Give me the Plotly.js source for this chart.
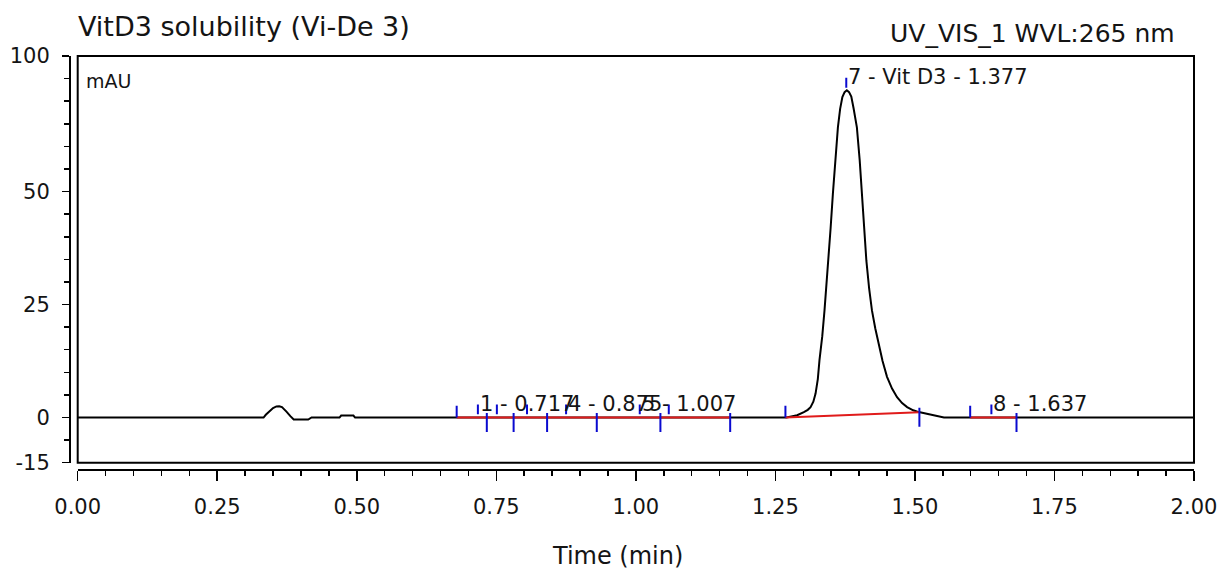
<!DOCTYPE html>
<html>
<head>
<meta charset="utf-8">
<script src="https://cdn.plot.ly/plotly-3.0.1.min.js"></script>
<style>html,body{margin:0;padding:0;background:#fff;}#chart{width:1227px;height:573px;}</style>
</head>
<body>
<div id="chart"></div>
<script>
// Chromatogram signal (time in min, signal in mAU)
const time = [0.000, 0.333, 0.337, 0.341, 0.346, 0.350, 0.356, 0.361, 0.366, 0.370, 0.374, 0.381, 0.387, 0.413, 0.419,
  0.469, 0.472, 0.494, 0.497,
  1.270, 1.280, 1.289, 1.301, 1.308, 1.313, 1.318, 1.322, 1.326, 1.329, 1.334, 1.338, 1.345, 1.349, 1.353, 1.358, 1.362,
  1.366, 1.370, 1.374, 1.378, 1.382, 1.386, 1.390, 1.396, 1.401, 1.405, 1.409, 1.413, 1.418, 1.423, 1.429, 1.435, 1.442,
  1.450, 1.459, 1.468, 1.477, 1.486, 1.497, 1.507, 1.518, 1.528, 1.537, 1.546, 1.552, 2.000];
const signal = [0, 0, 0.6, 1.1, 1.7, 2.1, 2.45, 2.5, 2.3, 1.9, 1.3, 0.3, -0.45, -0.45, 0,
  0, 0.45, 0.45, 0,
  0, 0.2, 0.5, 1.2, 1.7, 2.3, 3.5, 5.3, 8.5, 12.7, 18.0, 23.7, 34.7, 42.0, 49.5, 57.5, 64.2,
  68.3, 70.9, 72.0, 72.4, 72.0, 71.0, 68.5, 64.2, 57.0, 49.5, 42.0, 34.7, 28.5, 23.7, 19.7, 16.3, 12.5,
  9.0, 6.4, 4.5, 3.2, 2.3, 1.6, 1.2, 0.9, 0.7, 0.4, 0.2, 0, 0];

// Integrated peaks
const peakNo    = [1, 2, 3, 4, 5, 6, 7, 8];
const peakName  = ['', '', '', '', '', '', 'Vit D3', ''];
const peakRT    = [0.717, 0.751, 0.805, 0.875, 1.007, 1.059, 1.377, 1.637];
const peakStart = [0.679, 0.733, 0.781, 0.841, 0.930, 1.044, 1.268, 1.599];
const peakEnd   = [0.733, 0.781, 0.841, 0.930, 1.044, 1.169, 1.508, 1.682];
const labeledPeaks = [1, 4, 5, 7, 8];

// Axis tick labels
const xTickLabels = ['0.00', '0.25', '0.50', '0.75', '1.00', '1.25', '1.50', '1.75', '2.00'];
const yTickVals = [-10, 0, 25, 50, 80];
const yTickText = ['-15', '0', '25', '50', '100'];

const chartTitle = 'VitD3 solubility (Vi-De 3)';
const channelLabel = 'UV_VIS_1 WVL:265 nm';
const yUnit = 'mAU';
const xTitle = 'Time (min)';

function sigAt(t) {
  for (let i = 1; i < time.length; i++) {
    if (t <= time[i]) {
      const f = (t - time[i - 1]) / (time[i] - time[i - 1]);
      return signal[i - 1] + f * (signal[i] - signal[i - 1]);
    }
  }
  return signal[signal.length - 1];
}

const FONT = 'DejaVu Sans';
const TXT = '#141414';

// Baselines (red)
const bx = [], by = [];
peakStart.forEach((s, i) => {
  bx.push(s, peakEnd[i], null);
  by.push(sigAt(s), sigAt(peakEnd[i]), null);
});

// Blue delimiter marks
const mx = [], my = [];
peakStart.forEach((s, i) => {
  if (i === 0 || Math.abs(peakEnd[i - 1] - s) > 1e-6) {
    const b = sigAt(s);
    mx.push(s, s, null); my.push(b, b + 2.6, null);
  }
});
peakEnd.forEach(e => {
  const b = sigAt(e);
  mx.push(e, e, null); my.push(b + 1.0, b - 3.2, null);
});
peakRT.forEach(r => {
  const b = sigAt(r);
  mx.push(r, r, null); my.push(b + 0.7, b + 2.9, null);
});

const traces = [
  {x: time, y: signal, type: 'scatter', mode: 'lines', line: {color: '#000', width: 2}, hoverinfo: 'x+y'},
  {x: bx, y: by, type: 'scatter', mode: 'lines', line: {color: '#e01b1b', width: 2}, hoverinfo: 'skip'},
  {x: mx, y: my, type: 'scatter', mode: 'lines', line: {color: '#0a0ad0', width: 2}, hoverinfo: 'skip'}
];

const annotations = labeledPeaks.map(n => {
  const i = peakNo.indexOf(n);
  const txt = n + ' - ' + (peakName[i] ? peakName[i] + ' - ' : '') + peakRT[i].toFixed(3);
  return {
    x: peakRT[i], y: sigAt(peakRT[i]) + 3.0, xref: 'x', yref: 'y',
    text: txt, showarrow: false, xanchor: 'left', yanchor: 'middle',
    font: {family: FONT, size: 21, color: TXT}
  };
});
annotations.push(
  {x: 0.0059, y: 0.9385, xref: 'x domain', yref: 'y domain', text: yUnit, showarrow: false,
   xanchor: 'left', yanchor: 'middle', font: {family: FONT, size: 19, color: TXT}},
  {x: 0.9849, y: 1.0543, xref: 'paper', yref: 'paper', text: channelLabel, showarrow: false,
   xanchor: 'right', yanchor: 'middle', font: {family: FONT, size: 25, color: TXT}},
  {x: 0.4867, y: -0.2077, xref: 'paper', yref: 'paper', text: xTitle, showarrow: false,
   xanchor: 'center', yanchor: 'middle', font: {family: FONT, size: 24, color: TXT}}
);

const layout = {
  width: 1227, height: 573,
  margin: {l: 70, r: 33, t: 56, b: 103, pad: 0},
  paper_bgcolor: '#fff', plot_bgcolor: '#fff',
  showlegend: false,
  title: {text: chartTitle, font: {family: FONT, size: 27, color: TXT},
          xref: 'paper', x: 0.0071, xanchor: 'left', yref: 'container', y: 0.9529, yanchor: 'middle'},
  xaxis: {
    domain: [0.00685, 1], range: [0, 2], anchor: 'free', position: 0,
    showline: true, linecolor: '#000', linewidth: 2, showgrid: false, zeroline: false,
    ticks: 'outside', ticklen: 10, tickwidth: 1.5, tickcolor: '#000',
    tickmode: 'array', tickvals: xTickLabels.map(Number), ticktext: xTickLabels,
    ticklabelstandoff: 8,
    minor: {tickmode: 'linear', tick0: 0, dtick: 0.05, ticks: 'outside', ticklen: 5, tickwidth: 1.5, tickcolor: '#000', showgrid: false},
    tickfont: {family: FONT, size: 21, color: TXT}
  },
  yaxis: {
    domain: [0.0176, 1], range: [-10, 80], anchor: 'free', position: 0,
    showline: true, linecolor: '#000', linewidth: 2, showgrid: false, zeroline: false,
    ticks: 'outside', ticklen: 7, tickwidth: 1.5, tickcolor: '#000',
    tickmode: 'array', tickvals: yTickVals, ticktext: yTickText,
    ticklabelstandoff: 8,
    minor: {tickmode: 'linear', tick0: 0, dtick: 5, ticks: 'outside', ticklen: 5, tickwidth: 1.5, tickcolor: '#000', showgrid: false},
    tickfont: {family: FONT, size: 21, color: TXT}
  },
  shapes: [
    {type: 'rect', xref: 'x domain', yref: 'y domain', x0: 0, x1: 1, y0: 0, y1: 1,
     line: {color: '#000', width: 2}, fillcolor: 'rgba(0,0,0,0)'}
  ],
  annotations: annotations
};

Plotly.newPlot('chart', traces, layout, {displayModeBar: false, staticPlot: true});
</script>
</body>
</html>
